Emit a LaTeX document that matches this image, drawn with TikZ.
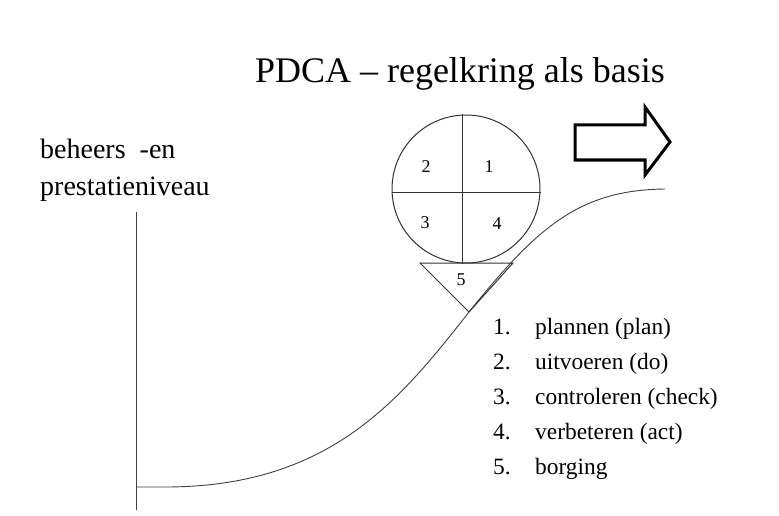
\documentclass[tikz,border=0pt]{standalone}
\usepackage{fontspec}
\setmainfont{Liberation Serif}
\begin{document}
\begin{tikzpicture}[x=1pt,y=-1pt,
  thinline/.style={draw=black!75,line width=0.9pt},
  digit/.style={font=\fontsize{18}{20}\selectfont,inner sep=0pt},
  listtxt/.style={font=\fontsize{23.4}{27}\selectfont,anchor=base west,inner sep=0pt},
  axlab/.style={font=\fontsize{28}{32}\selectfont,anchor=base west,inner sep=0pt}]
\useasboundingbox[fill=white] (0,0) rectangle (779,516);
% title
\node[font=\fontsize{36}{42}\selectfont,anchor=base,inner sep=0pt] (title) at (460,83) {PDCA -- regelkring als basis};
% axis label
\node[axlab] (lab1) at (40,158) {beheers\hspace{14pt}-en};
\node[axlab] (lab2) at (40,195) {prestatieniveau};
% axis
\coordinate (axtop) at (136,212);
\coordinate (axbot) at (136,510);
\draw[thinline] (axtop) -- (axbot);
% curve
\coordinate (c0) at (136,487);
\coordinate (c1) at (165,487);
\coordinate (cm) at (469,312);
\coordinate (c2) at (665,189);
\draw[thinline] (c0) -- (c1) .. controls (330,487) and (400,400) .. (cm) .. controls (538,226) and (580,190) .. (c2);
% circle
\node[draw=black!80,line width=1pt,circle,minimum size=148pt,inner sep=0pt] (circ) at (466,189) {};
\draw[black!80,line width=1pt] ([xshift=-4pt]circ.north) -- ([xshift=-4pt]circ.south);
\draw[black!80,line width=1pt] ([yshift=-3pt]circ.west) -- ([yshift=-3pt]circ.east);
% triangle
\coordinate (t1) at (420,263);
\coordinate (t2) at (513,263);
\draw[black!80,line width=1pt] (t1) -- (t2) -- (cm) -- cycle;
\node[digit] (d2) at (426,167) {2};
\node[digit] (d1) at (489,167) {1};
\node[digit] (d3) at (425,223) {3};
\node[digit] (d4) at (497,224) {4};
\node[digit] (d5) at (461,280) {5};
% arrow
\draw[line width=3pt,line join=miter] (575,125) -- (645,125) -- (645,107) -- (670,142) -- (645,175) -- (645,160) -- (575,160) -- cycle;
% list
\node[listtxt] (n1) at (493,334) {1.};
\node[listtxt] (n2) at (493,369) {2.};
\node[listtxt] (n3) at (493,404) {3.};
\node[listtxt] (n4) at (493,439) {4.};
\node[listtxt] (n5) at (493,474) {5.};
\node[listtxt] (l1) at (535,334) {plannen (plan)};
\node[listtxt] (l2) at (535,369) {uitvoeren (do)};
\node[listtxt] (l3) at (535,404) {controleren (check)};
\node[listtxt] (l4) at (535,439) {verbeteren (act)};
\node[listtxt] (l5) at (535,474) {borging};
\end{tikzpicture}
\end{document}
